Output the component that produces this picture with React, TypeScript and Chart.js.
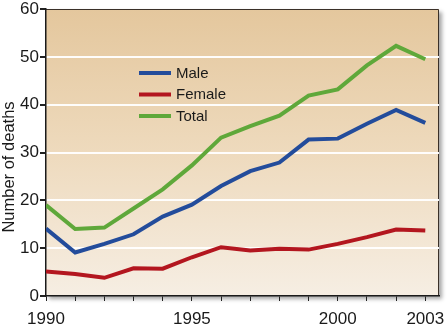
import React, { useEffect, useRef } from "react";
import { Chart, registerables } from "chart.js";

Chart.register(...registerables);

const years = [1990, 1991, 1992, 1993, 1994, 1995, 1996, 1997, 1998, 1999, 2000, 2001, 2002, 2003];
const male = [14.1, 9.1, 10.9, 12.9, 16.6, 19.1, 23.0, 26.1, 27.9, 32.7, 32.9, 36.0, 38.9, 36.2];
const female = [5.1, 4.6, 3.8, 5.8, 5.7, 8.1, 10.2, 9.5, 9.9, 9.7, 10.9, 12.3, 13.9, 13.7];
const total = [19.0, 14.0, 14.3, 18.3, 22.3, 27.3, 33.1, 35.5, 37.7, 41.9, 43.2, 48.2, 52.3, 49.5];
const seriesNames = ["Male", "Female", "Total"];
const seriesColors = ["#234c9b", "#b3161f", "#5fa83a"];
const xLabelYears = [1990, 1995, 2000, 2003];
const yTicks = [0, 10, 20, 30, 40, 50, 60];
const yTitle = "Number of deaths";

const FONT = "'Liberation Sans', Arial, Helvetica, sans-serif";

const bgPlugin = {
  id: "bgPlugin",
  beforeDraw(chart: any) {
    const { ctx, chartArea } = chart;
    const { left, top, right, bottom } = chartArea;
    ctx.save();
    ctx.shadowColor = "rgba(0,0,0,0.35)";
    ctx.shadowBlur = 4;
    ctx.shadowOffsetX = 3;
    ctx.shadowOffsetY = 3;
    ctx.fillStyle = "#f4ebde";
    ctx.fillRect(left, top, right - left, bottom - top);
    ctx.restore();
    ctx.save();
    const g = ctx.createLinearGradient(0, top, 0, bottom);
    g.addColorStop(0, "#e4c79d");
    g.addColorStop(0.5, "#eedabd");
    g.addColorStop(1, "#f6eee3");
    ctx.fillStyle = g;
    ctx.fillRect(left, top, right - left, bottom - top);
    ctx.strokeStyle = "#3a3028";
    ctx.lineWidth = 1;
    ctx.beginPath();
    ctx.moveTo(left, top + 0.5);
    ctx.lineTo(right - 0.5, top + 0.5);
    ctx.lineTo(right - 0.5, bottom);
    ctx.stroke();
    ctx.restore();
  },
};

const overlayPlugin = {
  id: "overlayPlugin",
  afterDraw(chart: any) {
    const { ctx } = chart;
    ctx.save();
    // legend
    chart.data.datasets.forEach((ds: any, i: number) => {
      const y = 73 + 21.5 * i;
      ctx.strokeStyle = ds.borderColor;
      ctx.lineWidth = 4;
      ctx.beginPath();
      ctx.moveTo(139, y);
      ctx.lineTo(171, y);
      ctx.stroke();
      ctx.fillStyle = "#1a1a1a";
      ctx.font = `15px ${FONT}`;
      ctx.textBaseline = "middle";
      ctx.textAlign = "left";
      ctx.fillText(ds.label, 176, y + 0.5);
    });
    // y title
    ctx.translate(9.5, 167);
    ctx.rotate(-Math.PI / 2);
    ctx.font = `16.5px ${FONT}`;
    ctx.fillStyle = "#1a1a1a";
    ctx.textAlign = "center";
    ctx.textBaseline = "middle";
    ctx.fillText(yTitle, 0, 0);
    ctx.restore();
  },
};

export default function App() {
  const ref = useRef<HTMLCanvasElement>(null);
  useEffect(() => {
    if (!ref.current) return;
    const datasets = [male, female, total].map((arr, i) => ({
      label: seriesNames[i],
      data: years.map((yr, j) => ({ x: yr, y: arr[j] })),
      borderColor: seriesColors[i],
      backgroundColor: seriesColors[i],
      borderWidth: 4,
      pointRadius: 0,
      tension: 0,
      borderJoinStyle: "miter" as const,
      fill: false,
    }));
    const chart = new Chart(ref.current, {
      type: "line",
      data: { datasets },
      plugins: [bgPlugin, overlayPlugin],
      options: {
        animation: false,
        responsive: false,
        maintainAspectRatio: false,
        layout: { padding: { left: 0, top: 9, right: 8, bottom: 0 } },
        plugins: { legend: { display: false }, tooltip: { enabled: false } },
        scales: {
          x: {
            type: "linear",
            min: 1990,
            max: 2003.47,
            afterBuildTicks: (s: any) => {
              s.ticks = years.map((v) => ({ value: v }));
            },
            afterFit: (s: any) => {
              s.height = 30;
              s.paddingLeft = 0;
              s.paddingRight = 0;
            },
            ticks: {
              autoSkip: false,
              maxRotation: 0,
              padding: 8,
              color: "#1a1a1a",
              font: { family: FONT, size: 17 },
              callback: (v: any) => (xLabelYears.includes(Number(v)) ? String(v) : ""),
            },
            grid: {
              drawOnChartArea: false,
              drawTicks: true,
              tickLength: 5,
              tickColor: "#222",
              tickWidth: 1,
            },
            border: { display: true, color: "#1a1a1a", width: 1.5 },
          },
          y: {
            min: 0,
            max: 60,
            afterBuildTicks: (s: any) => {
              s.ticks = yTicks.map((v) => ({ value: v }));
            },
            afterFit: (s: any) => {
              s.width = 46;
              s.paddingTop = 0;
              s.paddingBottom = 0;
            },
            ticks: {
              padding: 1,
              color: "#1a1a1a",
              font: { family: FONT, size: 17 },
            },
            grid: {
              drawTicks: true,
              tickLength: 6,
              tickColor: "#222",
              lineWidth: 2,
              color: (c: any) =>
                c.tick && c.tick.value > 0 && c.tick.value < 60 ? "rgba(255,255,255,0.95)" : "rgba(0,0,0,0)",
            },
            border: { display: true, color: "#1a1a1a", width: 1.5 },
          },
        },
      },
    });
    return () => chart.destroy();
  }, []);
  return (
    <div style={{ position: "fixed", left: 0, top: 0, width: 447, height: 326, background: "#fff" }}>
      <canvas ref={ref} width={447} height={326} style={{ display: "block", width: 447, height: 326 }} />
    </div>
  );
}
